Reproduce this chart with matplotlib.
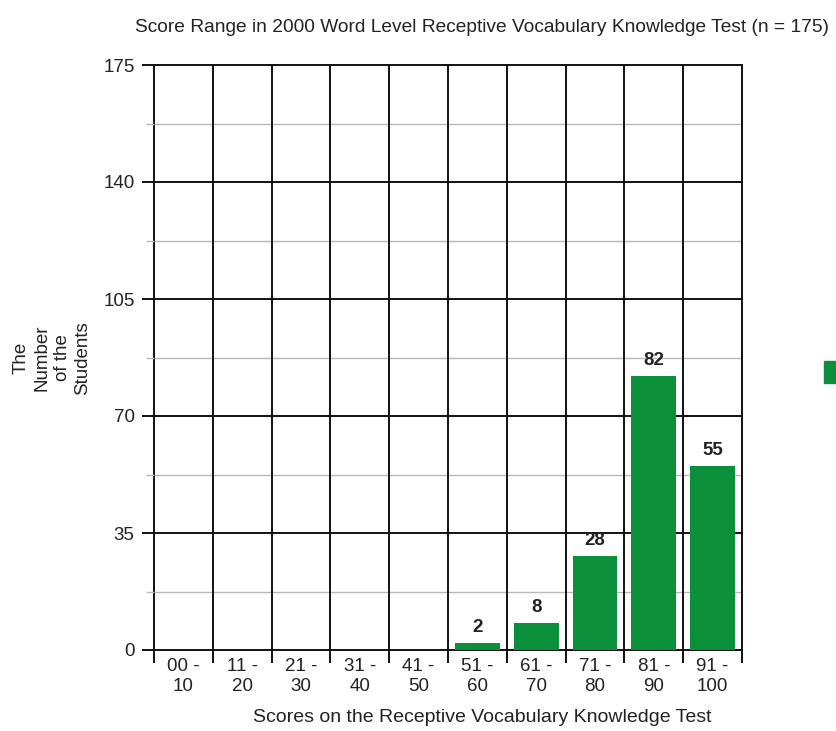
import matplotlib
matplotlib.use("Agg")
import matplotlib.pyplot as plt
from matplotlib.patches import Rectangle
import numpy as np

plt.rcParams['font.family'] = ['Liberation Sans', 'DejaVu Sans']

categories = ["00 -\n10", "11 -\n20", "21 -\n30", "31 -\n40", "41 -\n50",
              "51 -\n60", "61 -\n70", "71 -\n80", "81 -\n90", "91 -\n100"]
counts = [0, 0, 0, 0, 0, 2, 8, 28, 82, 55]
y_ticks = [0, 35, 70, 105, 140, 175]

green = "#0b8f3a"
text_col = "#222222"

fig = plt.figure(figsize=(8.37, 7.31), dpi=100)
ax = fig.add_axes([154 / 837, 1 - 650 / 731, 588 / 837, 585 / 731])

x = np.arange(len(categories))
ax.set_xlim(-0.5, len(categories) - 0.5)
ax.set_ylim(0, 175)

# grid: major rows black, minor rows light grey, category boundaries black
for v in np.arange(17.5, 175, 35):
    ax.axhline(v, color="#b8b8b8", lw=1.0, zorder=1)
for v in y_ticks:
    ax.axhline(v, color="#111111", lw=1.4, zorder=1, clip_on=False)
for b in np.arange(-0.5, len(categories), 1.0):
    ax.axvline(b, color="#111111", lw=1.4, zorder=1, clip_on=False)

for s in ax.spines.values():
    s.set_visible(False)

ax.bar(x, counts, width=0.76, color=green, zorder=3)
for xi, c in zip(x, counts):
    if c > 0:
        ax.annotate(str(c), (xi, c), xytext=(0, 5), textcoords="offset points",
                    ha="center", va="bottom", fontsize=13.5, fontweight="bold",
                    color=text_col)

ax.set_yticks(y_ticks)
ax.set_yticklabels([str(v) for v in y_ticks], fontsize=13.5, color=text_col)
ax.set_yticks(np.arange(17.5, 175, 35), minor=True)
ax.tick_params(axis="y", which="major", length=9, width=1.4, color="#111111", pad=5)
ax.tick_params(axis="y", which="minor", length=6, width=1.0, color="#b8b8b8")

# category boundary ticks below the axis, labels centred in each category
ax.set_xticks(np.arange(-0.5, len(categories), 1.0))
ax.set_xticklabels([])
ax.tick_params(axis="x", which="major", length=9, width=1.4, color="#111111")
ax.set_xticks(x, minor=True)
ax.set_xticklabels(categories, minor=True, fontsize=13.5, color=text_col,
                   linespacing=1.2)
ax.tick_params(axis="x", which="minor", length=0, pad=6)

fig.text(482 / 837, 1 - 718 / 731,
         "Scores on the Receptive Vocabulary Knowledge Test",
         ha="center", va="center", fontsize=14, color=text_col)

fig.text(52 / 837, 1 - 358 / 731, "The\nNumber\nof the\nStudents",
         rotation=90, ha="center", va="center", fontsize=13.5,
         color=text_col, linespacing=1.28, multialignment="center")

fig.text(482 / 837, 1 - 28 / 731,
         "Score Range in 2000 Word Level Receptive Vocabulary Knowledge Test (n = 175)",
         ha="center", va="center", fontsize=13.8, color=text_col)

# legend swatch at the right edge
fig.patches.append(Rectangle((824 / 837, 1 - 383 / 731), 20 / 837, 22 / 731,
                             transform=fig.transFigure, color=green))

fig.savefig("out.png", dpi=100)
